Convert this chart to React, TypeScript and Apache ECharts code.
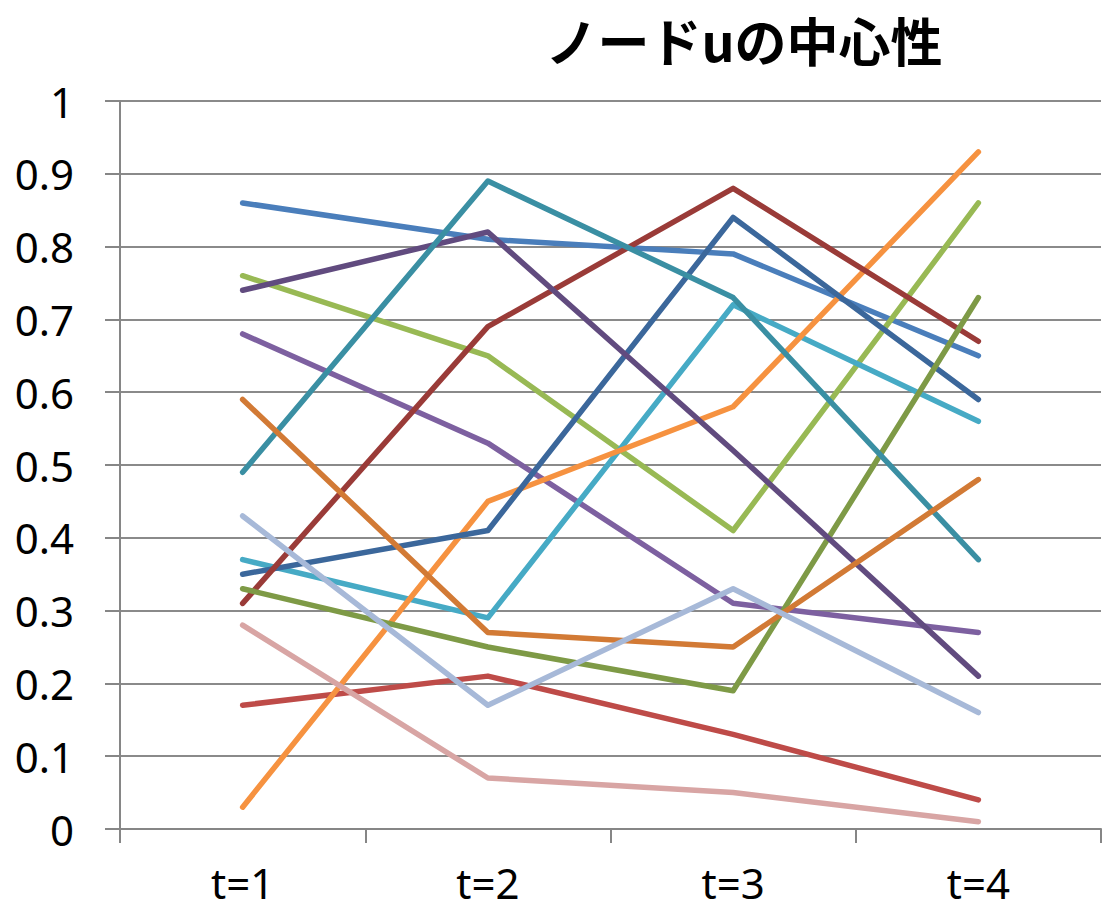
import React, { useEffect, useRef } from "react";
import * as echarts from "echarts";

const categories = ["t=1", "t=2", "t=3", "t=4"];
const titleText = "ノードuの中心性";

const s1 = [0.86, 0.81, 0.79, 0.65];
const s2 = [0.17, 0.21, 0.13, 0.04];
const s3 = [0.76, 0.65, 0.41, 0.86];
const s4 = [0.68, 0.53, 0.31, 0.27];
const s5 = [0.37, 0.29, 0.72, 0.56];
const s6 = [0.03, 0.45, 0.58, 0.93];
const s7 = [0.35, 0.41, 0.84, 0.59];
const s8 = [0.31, 0.69, 0.88, 0.67];
const s9 = [0.33, 0.25, 0.19, 0.73];
const s10 = [0.74, 0.82, 0.52, 0.21];
const s11 = [0.49, 0.89, 0.73, 0.37];
const s12 = [0.59, 0.27, 0.25, 0.48];
const s13 = [0.43, 0.17, 0.33, 0.16];
const s14 = [0.28, 0.07, 0.05, 0.01];

const seriesData = [s1, s2, s3, s4, s5, s6, s7, s8, s9, s10, s11, s12, s13, s14];
const seriesNames = [
  "系列1", "系列2", "系列3", "系列4", "系列5", "系列6", "系列7",
  "系列8", "系列9", "系列10", "系列11", "系列12", "系列13", "系列14",
];
const colors = [
  "#4A7EBB", "#BE4B48", "#98B954", "#7D60A0", "#46AAC5", "#F69240",
  "#3B679B", "#9A3B38", "#7E9A46", "#614B7F", "#3A8FA3", "#D27A35",
  "#A7B9D8", "#D8A5A4",
];

export default function App() {
  const ref = useRef<HTMLDivElement>(null);
  useEffect(() => {
    if (!ref.current) return;
    const chart = echarts.init(ref.current, undefined, { renderer: "svg" });
    const labelFont = "'Noto Sans', 'Open Sans', sans-serif";
    chart.setOption({
      animation: false,
      backgroundColor: "#ffffff",
      title: {
        text: titleText,
        left: 739,
        top: 6,
        textAlign: "center",
        textStyle: {
          fontFamily: "'Noto Sans CJK JP', sans-serif",
          fontWeight: "bold",
          fontSize: 52,
          lineHeight: 56,
          color: "#000000",
        },
      },
      grid: { left: 120, right: 1, top: 101, bottom: 80, containLabel: false },
      xAxis: {
        type: "category",
        data: categories,
        boundaryGap: true,
        axisLine: { show: true, lineStyle: { color: "#868686", width: 2 } },
        axisTick: { show: true, length: 14, alignWithLabel: false, lineStyle: { color: "#868686", width: 2 } },
        axisLabel: { color: "#000000", fontSize: 42, fontFamily: labelFont, margin: 32 },
        splitLine: { show: false },
      },
      yAxis: {
        type: "value",
        min: 0,
        max: 1,
        interval: 0.1,
        axisLine: { show: true, lineStyle: { color: "#868686", width: 2 } },
        axisTick: { show: true, length: 15, inside: false, lineStyle: { color: "#868686", width: 2 } },
        axisLabel: {
          color: "#000000",
          fontSize: 42,
          fontFamily: labelFont,
          margin: 46,
          formatter: (v: number) => String(Math.round(v * 10) / 10),
        },
        splitLine: { show: true, lineStyle: { color: "#8A8A8A", width: 2 } },
      },
      series: seriesData.map((d, i) => ({
        name: seriesNames[i],
        type: "line",
        data: d,
        showSymbol: false,
        symbol: "none",
        lineStyle: { color: colors[i], width: 5.5, cap: "round", join: "round" },
        itemStyle: { color: colors[i] },
      })),
    });
    return () => chart.dispose();
  }, []);
  return (
    <div
      ref={ref}
      style={{ position: "fixed", left: 0, top: 0, width: 1102, height: 909, background: "#fff" }}
    />
  );
}
